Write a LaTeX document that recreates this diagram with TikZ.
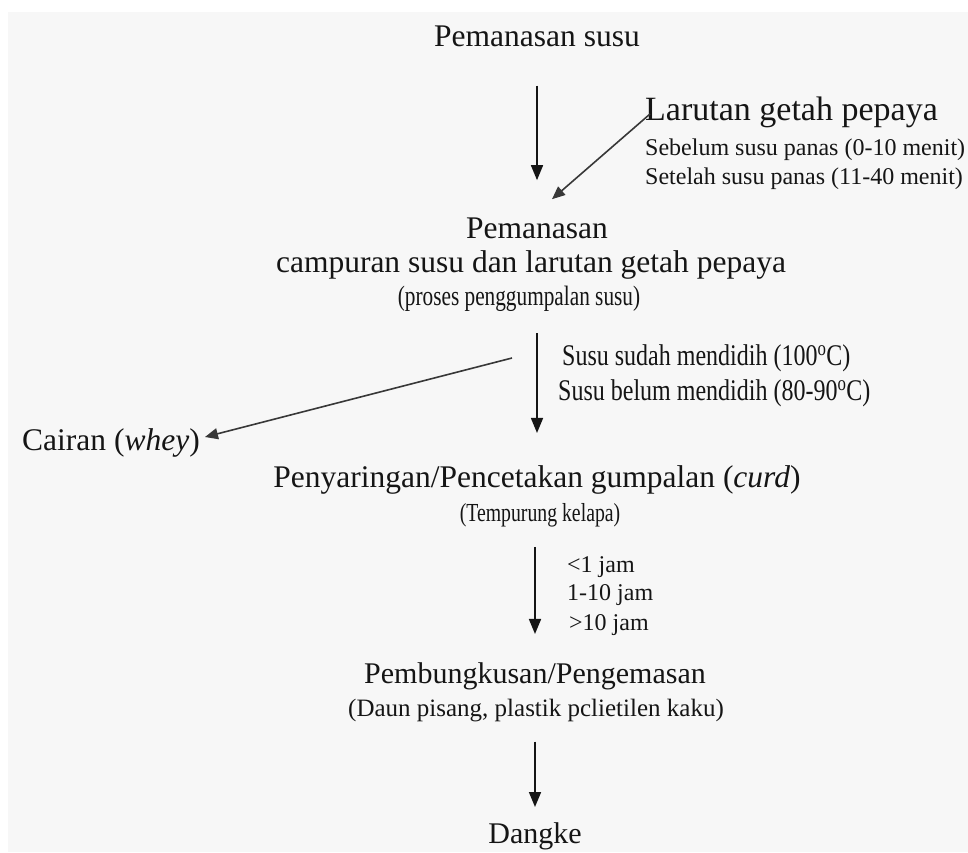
\documentclass[tikz,border=0pt]{standalone}
\usepackage{fontspec}
\setmainfont{Liberation Serif}
\newfontfamily\condfont[FakeStretch=0.80]{Liberation Serif}
\newfontfamily\narrowfont[FakeStretch=0.76]{Liberation Serif}
\usetikzlibrary{arrows.meta,calc}
\definecolor{bgc}{HTML}{F7F7F7}
\definecolor{ink}{HTML}{151515}
\tikzset{
  txt/.style={inner sep=0pt, anchor=base, text=ink},
  txtl/.style={inner sep=0pt, anchor=base west, text=ink},
  big/.style={font=\fontsize{31.5}{36}\selectfont},
  huge/.style={font=\fontsize{34}{38}\selectfont},
  mid/.style={font=\fontsize{24}{28}\selectfont},
  cmid/.style={font=\condfont\fontsize{30}{34}\selectfont},
  csub/.style={font=\narrowfont\fontsize{28}{32}\selectfont},
  ctemp/.style={font=\narrowfont\fontsize{26}{30}\selectfont},
  arr/.style={draw=ink, line width=1.6pt, -{Triangle[length=15pt,width=12pt]}},
  sarr/.style={draw=ink!85, line width=1.6pt, -{Triangle[length=13pt,width=11pt]}},
}
\begin{document}
\begin{tikzpicture}[x=1pt,y=-1pt]
\useasboundingbox (0,0) rectangle (968,852);
\fill[white] (0,0) rectangle (968,852);
\fill[bgc] (8,12) rectangle (968,852);

\node[txt,big] (pemsusu) at (537,46) {Pemanasan susu};
\node[txtl,huge] (lar) at (645,120) {Larutan getah pepaya};
\node[txtl,mid] (sebelum) at (645,155) {Sebelum susu panas (0-10 menit)};
\node[txtl,mid] (setelah) at (645,184) {Setelah susu panas (11-40 menit)};

\node[txt,big] (pem) at (537,238) {Pemanasan};
\node[txt,big] (camp) at (531,272) {campuran susu dan larutan getah pepaya};
\node[txt,csub] (proses) at (519,305) {(proses penggumpalan susu)};

\node[txtl,cmid] (sudah) at (562,365) {Susu sudah mendidih (100\textsuperscript{o}C)};
\node[txtl,cmid] (belum) at (558,400) {Susu belum mendidih (80-90\textsuperscript{o}C)};
\node[txtl,big] (whey) at (22,450) {Cairan (\textit{whey})};

\node[txt,big] (pen) at (537,487) {Penyaringan/Pencetakan gumpalan (\textit{curd})};
\node[txt,ctemp] (temp) at (540,521) {(Tempurung kelapa)};

\node[txtl,mid] (j1) at (567,572) {<1 jam};
\node[txtl,mid] (j2) at (567,600) {1-10 jam};
\node[txtl,mid] (j3) at (569,630) {>10 jam};

\node[txt,font=\fontsize{30}{34}\selectfont] (pemb) at (535,683) {Pembungkusan/Pengemasan};
\node[txt,font=\fontsize{25}{29}\selectfont] (daun) at (536,716) {(Daun pisang, plastik pclietilen kaku)};
\node[txt,font=\fontsize{30}{34}\selectfont] (dangke) at (535,843) {Dangke};

% connectors
\draw[arr, shorten <=39pt, shorten >=37pt] (pemsusu.south) -- (pem.north);
\draw[sarr] ([shift={(5,-6)}]lar.base west) -- ([shift={(15,-18)}]pem.north);
\draw[arr, shorten <=22pt, shorten >=32pt] (proses.south -| pen.north) -- (pen.north);
\draw[sarr] ([shift={(-50,-7)}]sudah.base west) -- ([shift={(5,-13)}]whey.base east);
\draw[arr, shorten <=20pt, shorten >=28pt] (temp.south -| pemb.north) -- (pemb.north);
\draw[arr, shorten <=20pt, shorten >=15pt] (daun.south -| dangke.north) -- (dangke.north);
\end{tikzpicture}
\end{document}
